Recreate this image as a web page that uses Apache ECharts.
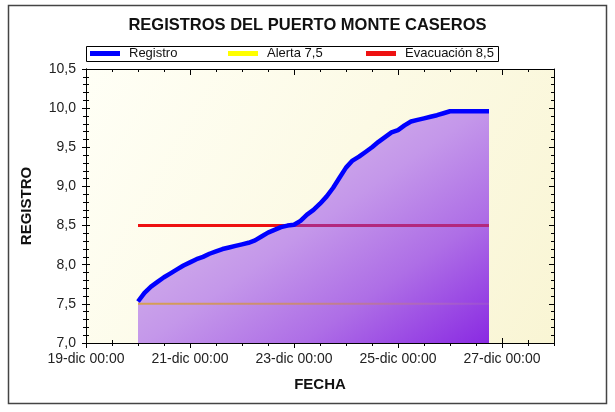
<!DOCTYPE html>
<html>
<head>
<meta charset="utf-8">
<script src="https://cdn.jsdelivr.net/npm/echarts@6/dist/echarts.min.js"></script>
<style>html,body{margin:0;padding:0;background:#fff}#c{width:615px;height:412px}</style>
</head>
<body>
<div id="c"></div>
<script>
// ---- data (3-hourly readings) ----
const fechas = [
  '2023-12-20 00:00','2023-12-20 03:00','2023-12-20 06:00','2023-12-20 09:00',
  '2023-12-20 12:00','2023-12-20 15:00','2023-12-20 18:00','2023-12-20 21:00',
  '2023-12-21 00:00','2023-12-21 03:00','2023-12-21 06:00','2023-12-21 09:00',
  '2023-12-21 12:00','2023-12-21 15:00','2023-12-21 18:00','2023-12-21 21:00',
  '2023-12-22 00:00','2023-12-22 03:00','2023-12-22 06:00','2023-12-22 09:00',
  '2023-12-22 12:00','2023-12-22 15:00','2023-12-22 18:00','2023-12-22 21:00',
  '2023-12-23 00:00','2023-12-23 03:00','2023-12-23 06:00','2023-12-23 09:00',
  '2023-12-23 12:00','2023-12-23 15:00','2023-12-23 18:00','2023-12-23 21:00',
  '2023-12-24 00:00','2023-12-24 03:00','2023-12-24 06:00','2023-12-24 09:00',
  '2023-12-24 12:00','2023-12-24 15:00','2023-12-24 18:00','2023-12-24 21:00',
  '2023-12-25 00:00','2023-12-25 03:00','2023-12-25 06:00','2023-12-25 09:00',
  '2023-12-25 12:00','2023-12-25 15:00','2023-12-25 18:00','2023-12-25 21:00',
  '2023-12-26 00:00','2023-12-26 03:00','2023-12-26 06:00','2023-12-26 09:00',
  '2023-12-26 12:00','2023-12-26 15:00','2023-12-26 18:00'
];
const registro = [
  7.53, 7.64, 7.72, 7.78,
  7.84, 7.89, 7.94, 7.99,
  8.03, 8.07, 8.10, 8.14,
  8.17, 8.20, 8.22, 8.24,
  8.26, 8.28, 8.31, 8.36,
  8.41, 8.445, 8.48, 8.50,
  8.51, 8.56, 8.64, 8.70,
  8.78, 8.87, 8.98, 9.11,
  9.24, 9.33, 9.38, 9.44,
  9.50, 9.57, 9.63, 9.69,
  9.72, 9.78, 9.83, 9.85,
  9.87, 9.89, 9.91, 9.935,
  9.96, 9.96, 9.96, 9.96,
  9.96, 9.96, 9.96
];
const alerta = 7.5;
const evacuacion = 8.5;
const seriesNames = ['Registro', 'Alerta 7,5', 'Evacuación 8,5'];
const xRange = ['2023-12-19 00:00', '2023-12-28 00:00'];
const yRange = [7.0, 10.5];
const mesLabel = 'dic';

// ---- helpers ----
const toTs = s => Date.parse(s.replace(' ', 'T') + ':00Z');
const DAY = 86400000;
const xMin = toTs(xRange[0]), xMax = toTs(xRange[1]);
const t0 = toTs(fechas[0]), tN = toTs(fechas[fechas.length - 1]);
const pad2 = n => (n < 10 ? '0' : '') + n;
const fmtX = v => { const d = new Date(v); return d.getUTCDate() + '-' + mesLabel + ' ' + pad2(d.getUTCHours()) + ':' + pad2(d.getUTCMinutes()); };
const fmtY = v => v.toFixed(1).replace('.', ',');

const FONT = 'Liberation Sans, Arial, sans-serif';
const axLine = { show: true, lineStyle: { color: '#000', width: 1 } };
const tk = (inside, length) => ({ show: true, inside: inside, length: length, lineStyle: { color: '#000', width: 1 } });

function xAx(opts) {
  return Object.assign({
    type: 'value', min: xMin, max: xMax, gridIndex: 0,
    axisLine: axLine, splitLine: { show: false },
    axisLabel: { show: false }
  }, opts);
}
function yAx(opts) {
  return Object.assign({
    type: 'value', min: yRange[0], max: yRange[1], interval: 0.5, gridIndex: 0,
    axisLine: axLine, splitLine: { show: false }, minorSplitLine: { show: false },
    axisLabel: { show: false }
  }, opts);
}

// crossing fraction for evacuation line colouring (derived from data)
let cross = 0.44;
for (let i = 1; i < registro.length; i++) {
  if (registro[i - 1] < evacuacion && registro[i] >= evacuacion) {
    const ta = toTs(fechas[i - 1]), tb = toTs(fechas[i]);
    const tc = ta + (tb - ta) * (evacuacion - registro[i - 1]) / (registro[i] - registro[i - 1]);
    cross = (tc - t0) / (tN - t0);
    break;
  }
}

const chart = echarts.init(document.getElementById('c'), null, { renderer: 'canvas' });
chart.setOption({
  animation: false,
  backgroundColor: '#fff',
  textStyle: { fontFamily: FONT },
  title: {
    text: 'REGISTROS DEL PUERTO MONTE CASEROS',
    left: 'center', top: 12,
    textStyle: { fontFamily: FONT, fontSize: 16.5, fontWeight: 'bold', color: '#111' }
  },
  graphic: [
    { type: 'rect', z: -1, silent: true, shape: { x: 8.5, y: 5.5, width: 598, height: 398 },
      style: { fill: 'none', stroke: '#444', lineWidth: 1.5 } },
    { type: 'rect', z: 0, silent: true, shape: { x: 86.5, y: 46.5, width: 412, height: 15 },
      style: { fill: '#fff', stroke: '#000', lineWidth: 1 } }
  ],
  legend: [0, 1, 2].map((k, i) => ({
    data: [seriesNames[k]],
    left: [90, 228, 366][i], top: 47, padding: 0,
    icon: 'rect', itemWidth: 30, itemHeight: 5,
    selectedMode: false, z: 5,
    textStyle: { fontFamily: FONT, fontSize: 13, color: '#111', padding: [0, 0, 0, 4] }
  })),
  grid: {
    left: 86, right: 61, top: 69, bottom: 69, show: true, borderWidth: 0,
    backgroundColor: new echarts.graphic.LinearGradient(0, 0, 1, 1, [
      { offset: 0, color: '#fffff6' }, { offset: 1, color: '#f9f5d4' }
    ])
  },
  xAxis: [
    xAx({ position: 'bottom', interval: 2 * DAY, axisTick: tk(false, 5),
      axisLabel: { show: true, formatter: fmtX, margin: 9, showMaxLabel: false,
        fontFamily: FONT, fontSize: 14, color: '#222' },
      name: 'FECHA', nameLocation: 'middle', nameGap: 34,
      nameTextStyle: { fontFamily: FONT, fontSize: 15, fontWeight: 'bold', color: '#111' } }),
    xAx({ position: 'bottom', interval: 2 * DAY, axisTick: tk(true, 5) }),
    xAx({ position: 'bottom', interval: DAY / 2, axisTick: tk(true, 3) }),
    xAx({ position: 'bottom', interval: DAY / 2, axisTick: tk(false, 3) }),
    xAx({ position: 'top', interval: DAY / 2, axisTick: tk(true, 3) }),
    xAx({ position: 'top', interval: 2 * DAY, axisTick: tk(true, 6) })
  ],
  yAxis: [
    yAx({ position: 'left', axisTick: tk(false, 4),
      minorTick: { show: true, splitNumber: 5, length: 3, lineStyle: { color: '#000' } },
      axisLabel: { show: true, formatter: fmtY, margin: 10, fontFamily: FONT, fontSize: 14, color: '#222' },
      name: 'REGISTRO', nameLocation: 'middle', nameGap: 52, nameRotate: 90,
      nameTextStyle: { fontFamily: FONT, fontSize: 15, fontWeight: 'bold', color: '#111' } }),
    yAx({ position: 'left', axisTick: tk(true, 4),
      minorTick: { show: true, splitNumber: 5, length: 3, lineStyle: { color: '#000' } } }),
    yAx({ position: 'right', axisTick: tk(true, 5),
      minorTick: { show: true, splitNumber: 5, length: 3, lineStyle: { color: '#000' } } })
  ],
  series: [
    {
      name: 'area', type: 'line', silent: true, z: 1,
      data: fechas.map((f, i) => [toTs(f), registro[i]]),
      showSymbol: false, lineStyle: { width: 0, opacity: 0 },
      areaStyle: {
        opacity: 1,
        color: new echarts.graphic.LinearGradient(0, 0, 0.63, 1.38, [
          { offset: 0, color: '#dcc4f2' },
          { offset: 0.42, color: '#c9a0ea' },
          { offset: 0.5, color: '#c497ea' },
          { offset: 0.73, color: '#ae6ee6' },
          { offset: 1, color: '#8a2be2' }
        ])
      }
    },
    {
      name: seriesNames[1], type: 'line', z: 2, silent: true,
      data: [[t0, alerta], [tN, alerta]],
      showSymbol: false,
      itemStyle: { color: '#ffff00' },
      lineStyle: { width: 2, color: new echarts.graphic.LinearGradient(0, 0, 1, 0, [
        { offset: 0, color: '#d6a050' }, { offset: 0.45, color: '#c98a78' },
        { offset: 0.85, color: '#aa62c8' }, { offset: 1, color: '#9a4cd8' }
      ]) }
    },
    {
      name: seriesNames[2], type: 'line', z: 3, silent: true,
      data: [[t0, evacuacion], [tN, evacuacion]],
      showSymbol: false,
      itemStyle: { color: '#ee1111' },
      lineStyle: { width: 3, color: new echarts.graphic.LinearGradient(0, 0, 1, 0, [
        { offset: 0, color: '#ee1111' }, { offset: cross, color: '#ee1111' },
        { offset: cross, color: '#b3287e' }, { offset: 1, color: '#b3287e' }
      ]) }
    },
    {
      name: seriesNames[0], type: 'line', z: 4, silent: true,
      data: fechas.map((f, i) => [toTs(f), registro[i]]),
      showSymbol: false,
      itemStyle: { color: '#0000ff' },
      lineStyle: { width: 4.5, color: '#0000ff' }
    }
  ]
});
</script>
</body>
</html>
